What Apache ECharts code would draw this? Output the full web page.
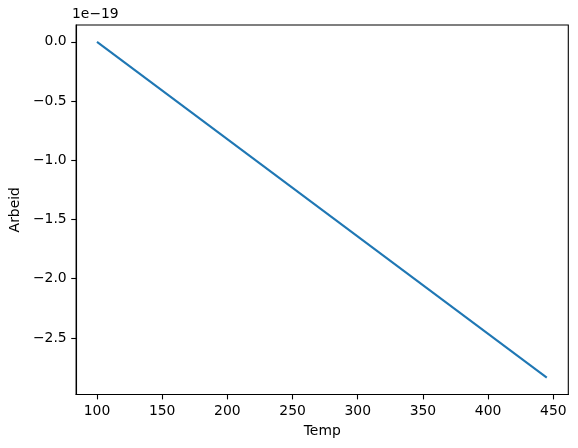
<!DOCTYPE html>
<html>
<head>
<meta charset="utf-8">
<script src="https://cdn.jsdelivr.net/npm/echarts@6/dist/echarts.min.js"></script>
<style>html,body{margin:0;padding:0;background:#fff;}#c{width:578px;height:448px;}</style>
</head>
<body>
<div id="c"></div>
<script>
// Data (y values in units of 1e-19)
const temp = [100, 445];
const arbeid = [0.0, -2.836];
const xTicks = [100, 150, 200, 250, 300, 350, 400, 450];
const yTicks = [0.0, -0.5, -1.0, -1.5, -2.0, -2.5];
const yScaleText = '1e\u221219';

const FONT = 'DejaVu Sans';
const FS = 13.9;
const fmtY = v => (v < 0 ? '\u2212' : '') + Math.abs(v).toFixed(1);

const chart = echarts.init(document.getElementById('c'), null, {renderer: 'canvas'});
chart.setOption({
  animation: false,
  backgroundColor: '#fff',
  grid: {left: 73.3, right: 9.7, top: 25, bottom: 53.5, show: true, borderColor: '#000', borderWidth: 1.1, backgroundColor: 'transparent'},
  xAxis: {
    type: 'value', min: 84, max: 461.5,
    name: 'Temp', nameLocation: 'middle', nameGap: 29.5,
    nameTextStyle: {fontFamily: FONT, fontSize: FS, color: '#000'},
    axisLine: {show: true, onZero: false, lineStyle: {color: '#000', width: 1.1}},
    axisTick: {show: true, length: 4.9, lineStyle: {color: '#000', width: 1.1}, customValues: xTicks},
    axisLabel: {margin: 9.5, fontFamily: FONT, fontSize: FS, color: '#000', customValues: xTicks},
    splitLine: {show: false}
  },
  yAxis: {
    type: 'value', min: -2.978, max: 0.142,
    name: 'Arbeid', nameLocation: 'middle', nameGap: 47, nameRotate: 90,
    nameTextStyle: {fontFamily: FONT, fontSize: FS, color: '#000'},
    axisLine: {show: true, onZero: false, lineStyle: {color: '#000', width: 1.1}},
    axisTick: {show: true, length: 4.9, lineStyle: {color: '#000', width: 1.1}, customValues: yTicks},
    axisLabel: {margin: 9.5, fontFamily: FONT, fontSize: FS, color: '#000', customValues: yTicks, formatter: fmtY},
    splitLine: {show: false}
  },
  graphic: [{
    type: 'text', left: 72, top: 7,
    style: {text: yScaleText, fontFamily: FONT, fontSize: FS, fill: '#000'}
  }],
  series: [{
    type: 'line',
    data: temp.map((t, i) => [t, arbeid[i]]),
    showSymbol: false,
    lineStyle: {color: '#1f77b4', width: 2.08},
    itemStyle: {color: '#1f77b4'}
  }]
});
</script>
</body>
</html>
